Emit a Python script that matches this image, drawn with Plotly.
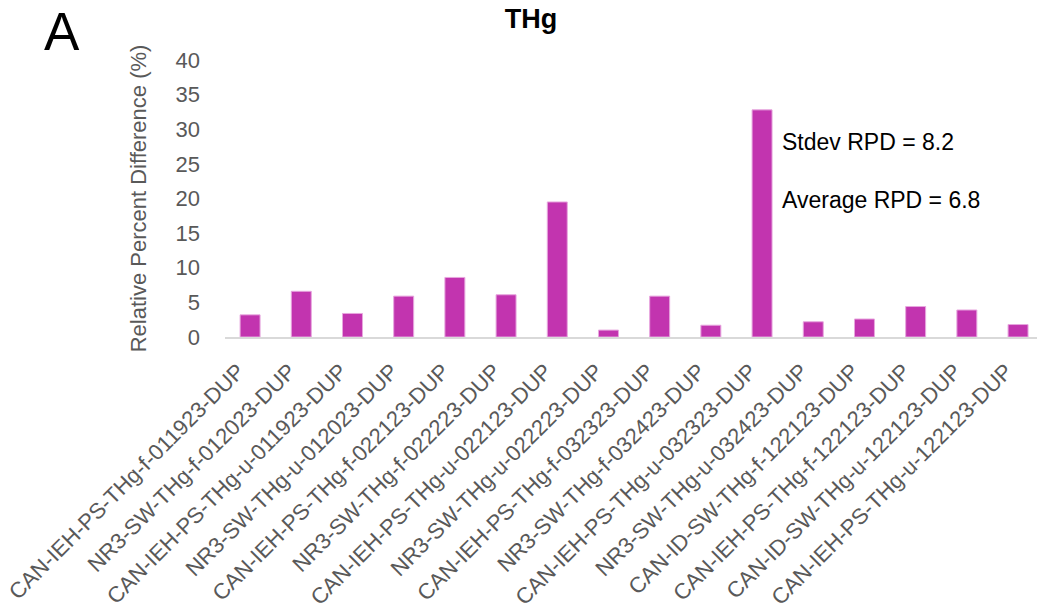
import plotly.graph_objects as go

categories = [
    "CAN-IEH-PS-THg-f-011923-DUP",
    "NR3-SW-THg-f-012023-DUP",
    "CAN-IEH-PS-THg-u-011923-DUP",
    "NR3-SW-THg-u-012023-DUP",
    "CAN-IEH-PS-THg-f-022123-DUP",
    "NR3-SW-THg-f-022223-DUP",
    "CAN-IEH-PS-THg-u-022123-DUP",
    "NR3-SW-THg-u-022223-DUP",
    "CAN-IEH-PS-THg-f-032323-DUP",
    "NR3-SW-THg-f-032423-DUP",
    "CAN-IEH-PS-THg-u-032323-DUP",
    "NR3-SW-THg-u-032423-DUP",
    "CAN-ID-SW-THg-f-122123-DUP",
    "CAN-IEH-PS-THg-f-122123-DUP",
    "CAN-ID-SW-THg-u-122123-DUP",
    "CAN-IEH-PS-THg-u-122123-DUP",
]
rpd_values = [3.2, 6.6, 3.4, 5.9, 8.6, 6.1, 19.5, 1.0, 5.9, 1.7, 32.8, 2.2, 2.6, 4.4, 3.9, 1.8]
y_ticks = [0, 5, 10, 15, 20, 25, 30, 35, 40]
stats_text = ["Stdev RPD = 8.2", "Average RPD = 6.8"]

FONT = "Liberation Sans, Arial, sans-serif"
GRAY = "#595959"

W, H = 1037, 611
ML, MT, MB = 225, 60, 274
PW = W - ML
PH = H - MT - MB

fig = go.Figure(
    go.Bar(
        x=list(range(len(categories))),
        y=rpd_values,
        marker=dict(color="#C234AF", line=dict(color="#E7A6DE", width=1)),
    )
)

fig.update_layout(
    width=W,
    height=H,
    margin=dict(l=ML, r=0, t=MT, b=MB, autoexpand=False),
    paper_bgcolor="white",
    plot_bgcolor="white",
    bargap=0.61,
    showlegend=False,
    font=dict(family=FONT, color=GRAY),
    title=dict(
        text="<b>THg</b>",
        x=531 / W,
        xanchor="center",
        y=1 - 19 / H,
        yanchor="middle",
        font=dict(family=FONT, size=27, color="black"),
    ),
)

fig.update_xaxes(
    tickmode="array",
    tickvals=list(range(len(categories))),
    ticktext=categories,
    tickangle=-45,
    tickfont=dict(family=FONT, size=22, color=GRAY),
    ticklabelstandoff=11,
    ticklabelshift=-12,
    range=[-0.49, 15.37],
    showgrid=False,
    showline=True,
    linecolor="#D9D9D9",
    linewidth=1.5,
    ticks="",
    zeroline=False,
)

fig.update_yaxes(
    range=[0, 40],
    tickmode="array",
    tickvals=y_ticks,
    tickfont=dict(family=FONT, size=22, color=GRAY),
    showgrid=False,
    showline=False,
    zeroline=False,
    ticks="",
    ticklabelstandoff=24,
    title=dict(
        text="Relative Percent Difference (%)",
        font=dict(family=FONT, size=22, color=GRAY),
        standoff=22,
    ),
)

fig.add_annotation(
    text=stats_text[0], xref="paper", yref="paper",
    x=(780 - ML) / PW, y=(337 - 142) / PH,
    xanchor="left", yanchor="middle", showarrow=False,
    font=dict(family=FONT, size=23, color="black"),
)
fig.add_annotation(
    text=stats_text[1], xref="paper", yref="paper",
    x=(780 - ML) / PW, y=(337 - 200) / PH,
    xanchor="left", yanchor="middle", showarrow=False,
    font=dict(family=FONT, size=23, color="black"),
)
fig.add_annotation(
    text="A", xref="paper", yref="paper",
    x=(62 - ML) / PW, y=(337 - 31) / PH,
    xanchor="center", yanchor="middle", showarrow=False,
    font=dict(family=FONT, size=53, color="black"),
)

fig.write_html(
    "out.html",
    config={"displayModeBar": False},
    post_script="document.body.style.margin='0px';",
)
